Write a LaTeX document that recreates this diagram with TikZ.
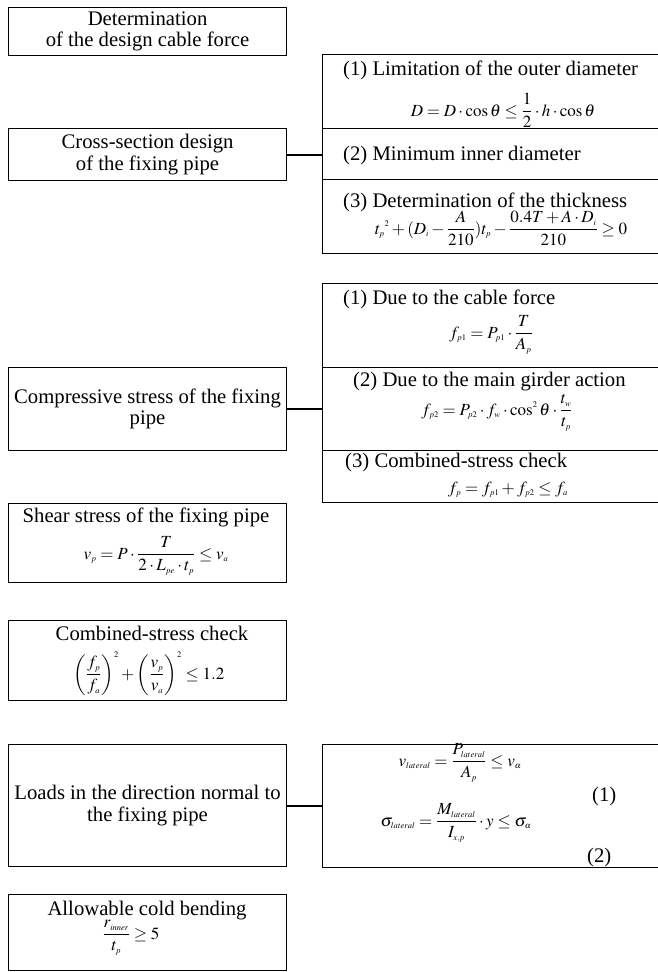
\documentclass[tikz,border=0pt]{standalone}
\usepackage{amsmath}
\usepackage{mathptmx}
\usepackage{fontspec}
\setmainfont{Liberation Serif}
\DeclareMathSizes{17}{17}{8.5}{6.5}
\usetikzlibrary{calc}
\tikzset{
  box/.style={draw, line width=1.1pt, inner sep=0pt, anchor=north west},
  conn/.style={line width=2pt},
  ttl/.style={font=\fontsize{20.7}{21.5}\selectfont, inner sep=0pt, align=center},
  lttl/.style={font=\fontsize{20.7}{21.5}\selectfont, inner sep=0pt, anchor=base west},
  ctl/.style={font=\fontsize{20.7}{21.5}\selectfont, inner sep=0pt, anchor=base},
  fml/.style={font=\fontsize{17}{19}\selectfont, inner sep=0pt, anchor=base},
}
\begin{document}
\begin{tikzpicture}[x=1pt,y=-1pt]
\useasboundingbox (0,0) rectangle (658,972);
\clip (0,0) rectangle (658,972);
% left boxes
\node[box, minimum width=278pt, minimum height=48pt] (det) at (8,7) {};
\node[ttl] (detT) at (det.center) {Determination\\of the design cable force};
\node[box, minimum width=278pt, minimum height=52pt] (cross) at (8,128) {};
\node[ttl] (crossT) at (cross.center) {Cross-section design\\of the fixing pipe};
\node[box, minimum width=278pt, minimum height=83pt] (comp) at (8,367) {};
\node[ttl] (compT) at (comp.center) {Compressive stress of the fixing\\pipe};
\node[box, minimum width=278pt, minimum height=79pt] (shear) at (8,503) {};
\node[ctl] (shearT) at (146,522) {Shear stress of the fixing pipe};
\node[fml] (shearF) at (156,559) {$\displaystyle v_p = P\cdot\frac{T}{2\cdot L_{pe}\cdot t_p}\le v_a$};
\node[box, minimum width=278pt, minimum height=80pt] (comb) at (8,620) {};
\node[ctl] (combT) at (152,640) {Combined-stress check};
\node[fml] (combF) at (149,679) {$\displaystyle \left(\frac{f_p}{f_a}\right)^{2}+\left(\frac{v_p}{v_a}\right)^{2}\le 1.2$};
\node[box, minimum width=278pt, minimum height=122pt] (loads) at (8,744) {};
\node[ttl] (loadsT) at (loads.center) {Loads in the direction normal to\\the fixing pipe};
\node[box, minimum width=278pt, minimum height=76pt] (allow) at (8,894) {};
\node[ctl] (allowT) at (147,915) {Allowable cold bending};
\node[fml] (allowF) at (131,939) {$\displaystyle \frac{r_{inner}}{t_p}\ge 5$};
% right group 1
\node[box, minimum width=340pt, minimum height=74pt] (ra1) at (322,54) {};
\node[box, minimum width=340pt, minimum height=51pt] (ra2) at (322,128) {};
\node[box, minimum width=340pt, minimum height=74pt] (ra3) at (322,179) {};
\node[lttl] (ra1T) at (343,75) {(1) Limitation of the outer diameter};
\node[fml] (ra1F) at (503,116) {$\displaystyle D = D\cdot\cos\theta\le\frac{1}{2}\cdot h\cdot\cos\theta$};
\node[lttl] (ra2T) at (343,160) {(2) Minimum inner diameter};
\node[lttl] (ra3T) at (343,207) {(3) Determination of the thickness};
\node[fml] (ra3F) at (501,234) {$\displaystyle {t_p}^{2}+(D_i-\frac{A}{210})t_p-\frac{0.4T+A\cdot D_i}{210}\ge 0$};
% right group 2
\node[box, minimum width=340pt, minimum height=84pt] (rb1) at (322,283) {};
\node[box, minimum width=340pt, minimum height=83pt] (rb2) at (322,367) {};
\node[box, minimum width=340pt, minimum height=52pt] (rb3) at (322,450) {};
\node[lttl] (rb1T) at (343,304) {(1) Due to the cable force};
\node[fml] (rb1F) at (491,338) {$\displaystyle f_{p1}=P_{p1}\cdot\frac{T}{A_p}$};
\node[lttl] (rb2T) at (353,386) {(2) Due to the main girder action};
\node[fml] (rb2F) at (497,415) {$\displaystyle f_{p2}=P_{p2}\cdot f_w\cdot\cos^{2}\theta\cdot\frac{t_w}{t_p}$};
\node[lttl] (rb3T) at (345,467) {(3) Combined-stress check};
\node[fml] (rb3F) at (508,493) {$\displaystyle f_p=f_{p1}+f_{p2}\le f_a$};
% right group 3
\node[box, minimum width=340pt, minimum height=123pt] (rc) at (322,744) {};
\node[fml] (rcF1) at (460,766) {$\displaystyle v_{lateral}=\frac{P_{lateral}}{A_p}\le v_\alpha$};
\node[fml] (rcF2) at (456,826) {$\displaystyle \sigma_{lateral}=\frac{M_{lateral}}{I_{x,p}}\cdot y\le\sigma_\alpha$};
\node[lttl] (rcL1) at (592,801) {(1)};
\node[lttl] (rcL2) at (587,862) {(2)};
% connectors
\draw[conn] (cross.east) -- (cross.east -| ra2.west);
\draw[conn] (comp.east) -- (comp.east -| rb2.west);
\draw[conn] (loads.east) -- (loads.east -| rc.west);
\end{tikzpicture}
\end{document}
